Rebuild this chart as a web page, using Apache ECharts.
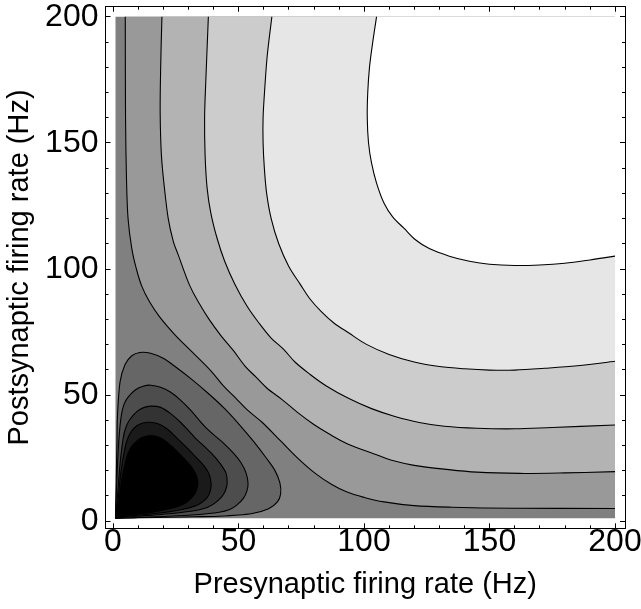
<!DOCTYPE html>
<html><head><meta charset="utf-8">
<script src="https://cdn.jsdelivr.net/npm/echarts@6/dist/echarts.min.js"></script>
<style>html,body{margin:0;padding:0;background:#fff}#c{width:641px;height:609px}</style>
</head><body><div id="c"></div>
<script>
// ---- tick values ----
const majorTicks = [0, 50, 100, 150, 200];
const minorTicks = [10, 20, 30, 40, 60, 70, 80, 90, 110, 120, 130, 140, 160, 170, 180, 190];
const domainMin = 1, domainMax = 200;

// ---- contour lines: [presynaptic Hz, postsynaptic Hz] ----
// L-shaped contours (top edge -> right edge), from outer-left to upper-right
const contourC1 = [[4.9,200],[5.0,160],[5.4,135],[6,120],[7.5,108],[9.3,100],[11.5,93],[14.5,87],[18.5,81],[24.5,74],[31.5,67],[39,59.5],[44,53.5],[48.8,48.8],[53.5,44],[59.5,39],[67,31.5],[74,24.5],[81,18.5],[87,14.5],[93,11.5],[100,9.3],[108,7.5],[120,6],[135,5.4],[160,5.0],[200,4.9]];
const contourC2 = [[19.5,200],[19,180],[18.8,162],[19.3,145],[20.5,132],[22,120],[24,111],[26,105.5],[30.5,93.5],[34.5,86],[38.5,79.6],[43,73.5],[48,67.5],[52.5,61.5],[57,57],[61.5,52.5],[67.5,48],[73.5,43],[79.6,38.5],[86,34.5],[93.5,30.5],[105.5,26],[111,24],[120,22],[132,20.5],[145,19.3],[162,18.8],[180,19],[200,19.5]];
const contourC3 = [[38,200],[37,175],[36.5,160],[36.7,145],[37.5,132],[39,122],[41.5,112],[44.5,103],[48.5,94],[53.5,85],[58.5,78],[63,72.5],[68,68],[72.5,63],[78,58.5],[85,53.5],[94,48.5],[103,44.5],[112,41.5],[122,39],[132,37.5],[145,36.7],[160,36.5],[175,37],[200,38]];
const contourC4 = [[63.3,200],[61.5,185],[60.5,172],[59.8,160],[59.8,150],[60.3,140],[61.2,130],[63,120],[66,110],[70,101],[74.5,94],[78.5,88],[83,83],[88,78.5],[94,74.5],[101,70],[110,66],[120,63],[130,61.2],[140,60.3],[150,59.8],[160,59.8],[172,60.5],[185,61.5],[200,63.3]];
const contourC5 = [[105,200],[103.5,190],[102.2,180],[101.5,170],[101.3,160],[101.8,150],[103,142],[105,134],[108,126],[111.5,120.5],[116,116],[120.5,111.5],[126,108],[134,105],[142,103],[150,101.8],[160,101.3],[170,101.5],[180,102.2],[190,103.5],[200,105]];
// closed loops around the minimum near the origin, outer to inner
const loopB1 = [[1,1],[1.2,10],[1.4,22],[1.6,32],[1.8,42],[2.8,55],[4.8,62],[7.5,65.5],[10.7,66.8],[15,66.5],[20,64.5],[25,61],[31.5,56],[38,50.5],[44.5,44.5],[50.5,38],[56,31.5],[61,25],[64.5,20],[66.5,15],[66.8,10.7],[65.5,7.5],[62,4.8],[55,2.8],[42,1.8],[32,1.6],[22,1.4],[10,1.2],[1,1]];
const loopB2 = [[1,1],[1.3,10],[1.7,20],[2.4,33],[3.4,42.3],[4.5,46.5],[6.1,49.2],[9,52],[12,53.4],[15,53.8],[19,53],[23,51],[27,47.8],[31,43.8],[37,37],[43.8,31],[47.8,27],[51,23],[53,19],[53.8,15],[53.4,12],[52,9],[49.2,6.1],[46.5,4.5],[42.3,3.4],[33,2.4],[20,1.7],[10,1.3],[1,1]];
const loopB3 = [[1,1],[1.8,10],[2.8,22.4],[4.1,33],[5.3,37.5],[6.8,40.3],[9.5,43.3],[12,44.8],[15,45.5],[19,45],[23,42.5],[27,39],[30.8,35],[32.8,32.8],[35,30.8],[39,27],[42.5,23],[45,19],[45.5,15],[44.8,12],[43.3,9.5],[40.3,6.8],[37.5,5.3],[33,4.1],[22.4,2.8],[10,1.8],[1,1]];
const loopB4 = [[1,1],[2,8],[3.2,19.7],[4.8,29],[6,33],[7.4,35.6],[9.5,37.7],[12,38.8],[14.5,39.1],[18,38.5],[21.5,36.5],[25,33.3],[29.2,29.2],[33.3,25],[36.5,21.5],[38.5,18],[39.1,14.5],[38.8,12],[37.7,9.5],[35.6,7.4],[33,6],[29,4.8],[19.7,3.2],[8,2],[1,1]];
const loopB5 = [[1,1],[2.2,6.4],[3.4,15.7],[5.4,25],[7,28.8],[8.8,31],[11,32.8],[13.5,33.6],[15.5,33.8],[18.5,33],[21.5,31.2],[24,29],[26.5,26.5],[29,24],[31.2,21.5],[33,18.5],[33.8,15.5],[33.6,13.5],[32.8,11],[31,8.8],[28.8,7],[25,5.4],[15.7,3.4],[6.4,2.2],[1,1]];

// band shades (Mathematica grayscale levels)
const shadeBase = '#808080';
const shadesUpper = ['#999999', '#b3b3b3', '#cccccc', '#e6e6e6', '#ffffff'];
const shadesLower = ['#666666', '#4d4d4d', '#333333', '#1a1a1a', '#000000'];

const layers = [{kind: 'rect', color: shadeBase}];
[contourC1, contourC2, contourC3, contourC4, contourC5].forEach((c, i) => layers.push({kind: 'L', pts: c, color: shadesUpper[i]}));
[loopB1, loopB2, loopB3, loopB4, loopB5].forEach((c, i) => layers.push({kind: 'loop', pts: c, color: shadesLower[i]}));

function curvePath(pts, api) {
  const p = pts.map(q => api.coord(q));
  let d = 'M' + p[0][0] + ' ' + p[0][1];
  for (let i = 0; i < p.length - 1; i++) {
    const p0 = p[i - 1] || p[i], p1 = p[i], p2 = p[i + 1], p3 = p[i + 2] || p[i + 1];
    const c1x = p1[0] + (p2[0] - p0[0]) / 6, c1y = p1[1] + (p2[1] - p0[1]) / 6;
    const c2x = p2[0] - (p3[0] - p1[0]) / 6, c2y = p2[1] - (p3[1] - p1[1]) / 6;
    d += ' C' + c1x + ' ' + c1y + ' ' + c2x + ' ' + c2y + ' ' + p2[0] + ' ' + p2[1];
  }
  return d;
}

const FONT = 'Liberation Sans';
const range = {min: -2.98, max: 203.98};
function frameAxis(position, ticks, len, extra) {
  return Object.assign({
    type: 'value', position: position, min: range.min, max: range.max,
    axisLine: {show: true, onZero: false, lineStyle: {color: '#000', width: 1}},
    axisTick: {show: true, inside: true, length: len, customValues: ticks, lineStyle: {color: '#000', width: 1}},
    axisLabel: {show: false},
    splitLine: {show: false}
  }, extra || {});
}
const labelStyle = {show: true, customValues: majorTicks, fontSize: 32, color: '#000', fontFamily: FONT};

const chart = echarts.init(document.getElementById('c'), null, {renderer: 'canvas'});
chart.setOption({
  animation: false,
  backgroundColor: '#fff',
  grid: {left: 105.5, top: 6.7, width: 519.5, height: 521.6, containLabel: false, outerBoundsMode: 'none'},
  xAxis: [
    frameAxis('bottom', majorTicks, 5, {
      axisLabel: Object.assign({margin: -2}, labelStyle),
      name: 'Presynaptic firing rate (Hz)', nameLocation: 'middle', nameGap: 42,
      nameTextStyle: {fontSize: 29, color: '#000', fontFamily: FONT}
    }),
    frameAxis('bottom', minorTicks, 3),
    frameAxis('top', majorTicks, 5),
    frameAxis('top', minorTicks, 3)
  ],
  yAxis: [
    frameAxis('left', majorTicks, 5, {
      axisLabel: Object.assign({margin: 7}, labelStyle),
      name: 'Postsynaptic firing rate (Hz)', nameLocation: 'middle', nameGap: 66, nameRotate: 90,
      nameTextStyle: {fontSize: 29, color: '#000', fontFamily: FONT}
    }),
    frameAxis('left', minorTicks, 3),
    frameAxis('right', majorTicks, 5),
    frameAxis('right', minorTicks, 3)
  ],
  series: [{
    type: 'custom', coordinateSystem: 'cartesian2d', xAxisIndex: 0, yAxisIndex: 0,
    silent: true, clip: true,
    data: layers.map((l, i) => [i, i]),
    renderItem: function (params, api) {
      const L = layers[params.dataIndex];
      if (L.kind === 'rect') {
        const a = api.coord([domainMin, domainMax]), b = api.coord([domainMax, domainMin]);
        return {type: 'rect', shape: {x: a[0], y: a[1], width: b[0] - a[0], height: b[1] - a[1]}, style: {fill: L.color}};
      }
      const curve = curvePath(L.pts, api);
      let fillD;
      if (L.kind === 'L') {
        const corner = api.coord([domainMax, domainMax]);
        fillD = curve + ' L' + corner[0] + ' ' + corner[1] + ' Z';
      } else {
        fillD = curve + ' Z';
      }
      return {type: 'group', children: [
        {type: 'path', shape: {pathData: fillD}, style: {fill: L.color, stroke: 'none'}},
        {type: 'path', shape: {pathData: curve}, style: {fill: 'none', stroke: '#000', lineWidth: 1.1}}
      ]};
    }
  }]
});
</script>
</body></html>
